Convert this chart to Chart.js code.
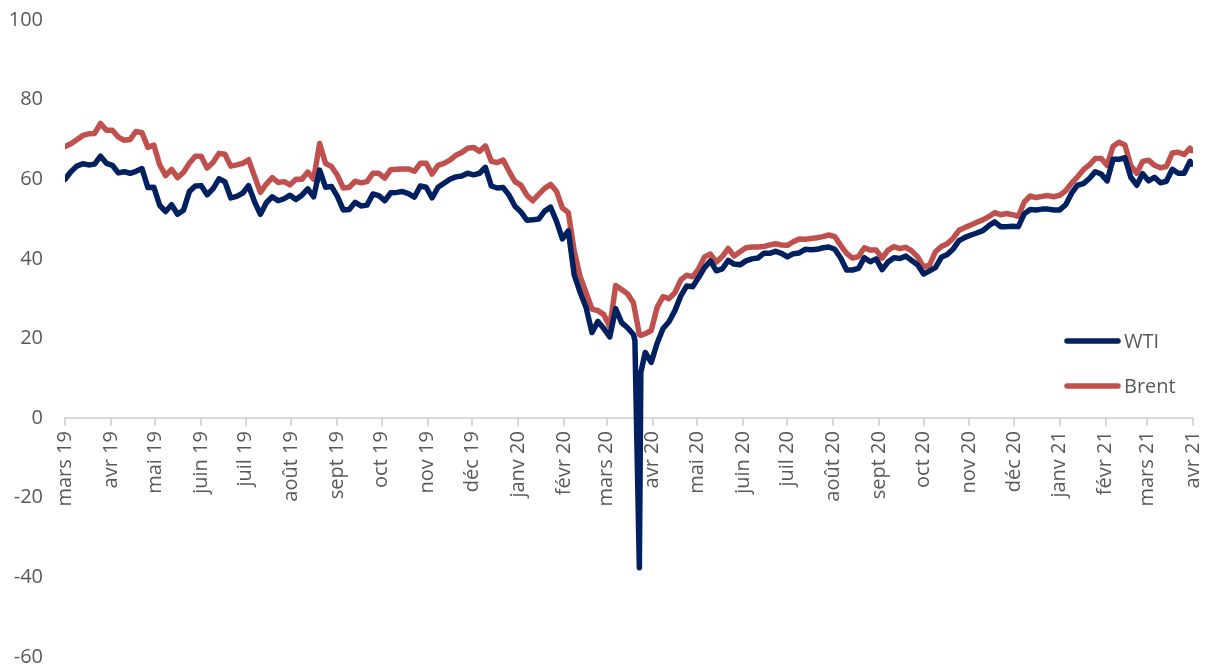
<!DOCTYPE html>
<html>
<head>
<meta charset="utf-8">
<script src="https://cdn.jsdelivr.net/npm/chart.js@4"></script>
<style>
body{margin:0;background:#fff}
</style>
</head>
<body>
<canvas id="oil" width="1216" height="667"></canvas>
<script>

/* DATA */

const dates=[
'2019-03-01','2019-03-05','2019-03-09','2019-03-13','2019-03-17','2019-03-21','2019-03-25','2019-03-29',
'2019-04-02','2019-04-06','2019-04-10','2019-04-14','2019-04-18','2019-04-22','2019-04-26','2019-04-30',
'2019-05-04','2019-05-08','2019-05-12','2019-05-16','2019-05-20','2019-05-24','2019-05-28',
'2019-06-01','2019-06-05','2019-06-09','2019-06-13','2019-06-17','2019-06-21','2019-06-25','2019-06-29',
'2019-07-03','2019-07-07','2019-07-11','2019-07-15','2019-07-19','2019-07-23','2019-07-27','2019-07-31',
'2019-08-04','2019-08-08','2019-08-12','2019-08-16','2019-08-20','2019-08-24','2019-08-28',
'2019-09-01','2019-09-05','2019-09-09','2019-09-13','2019-09-17','2019-09-21','2019-09-25','2019-09-29',
'2019-10-03','2019-10-07','2019-10-11','2019-10-15','2019-10-19','2019-10-23','2019-10-27','2019-10-31',
'2019-11-04','2019-11-08','2019-11-12','2019-11-16','2019-11-20','2019-11-24','2019-11-28',
'2019-12-02','2019-12-06','2019-12-10','2019-12-14','2019-12-18','2019-12-22','2019-12-26','2019-12-30',
'2020-01-03','2020-01-07','2020-01-11','2020-01-15','2020-01-19','2020-01-23','2020-01-27','2020-01-31',
'2020-02-04','2020-02-08','2020-02-12','2020-02-16','2020-02-20','2020-02-24','2020-02-28',
'2020-03-03','2020-03-07','2020-03-11','2020-03-15','2020-03-19','2020-03-20','2020-03-23','2020-03-24','2020-03-27','2020-03-31',
'2020-04-04','2020-04-08','2020-04-12','2020-04-16','2020-04-20','2020-04-24','2020-04-28',
'2020-05-02','2020-05-06','2020-05-10','2020-05-14','2020-05-18','2020-05-22','2020-05-26','2020-05-30',
'2020-06-03','2020-06-07','2020-06-11','2020-06-15','2020-06-19','2020-06-23','2020-06-27',
'2020-07-01','2020-07-05','2020-07-09','2020-07-13','2020-07-17','2020-07-21','2020-07-25','2020-07-29',
'2020-08-02','2020-08-06','2020-08-10','2020-08-14','2020-08-18','2020-08-22','2020-08-26','2020-08-30',
'2020-09-03','2020-09-07','2020-09-11','2020-09-15','2020-09-19','2020-09-23','2020-09-27',
'2020-10-01','2020-10-05','2020-10-09','2020-10-13','2020-10-17','2020-10-21','2020-10-25','2020-10-29',
'2020-11-02','2020-11-06','2020-11-10','2020-11-14','2020-11-18','2020-11-22','2020-11-26','2020-11-30',
'2020-12-04','2020-12-08','2020-12-12','2020-12-16','2020-12-20','2020-12-24','2020-12-28',
'2021-01-01','2021-01-05','2021-01-09','2021-01-13','2021-01-17','2021-01-21','2021-01-25','2021-01-29',
'2021-02-02','2021-02-06','2021-02-10','2021-02-14','2021-02-18','2021-02-22','2021-02-26',
'2021-03-02','2021-03-06','2021-03-10','2021-03-14','2021-03-18','2021-03-22','2021-03-26','2021-03-30','2021-03-31'
]

const wti=[
60.0,61.9,63.3,63.9,63.6,63.8,65.8,64.0,
63.5,61.6,61.9,61.5,62.0,62.7,57.9,58.0,
53.4,51.9,53.6,51.2,52.2,56.9,58.3,
58.4,56.1,57.6,60.1,59.4,55.3,55.7,56.5,
58.4,54.4,51.2,54.1,55.6,54.6,55.1,56.0,
54.9,56.0,57.6,55.6,62.3,58.0,58.2,
55.7,52.3,52.4,54.2,53.3,53.5,56.3,55.9,
54.6,56.6,56.7,56.9,56.4,55.5,58.3,58.0,
55.3,58.0,59.0,60.0,60.6,60.8,61.5,
61.1,61.5,63.0,58.3,57.8,57.9,56.0,53.2,
51.8,49.7,49.8,50.0,52.0,53.0,49.5,45.0,
47.0,36.0,31.6,27.8,21.5,24.3,22.5,
20.4,27.5,24.0,22.7,21.0,19.5,-37.6,11.5,16.5,14.0,
18.8,22.5,24.2,27.0,30.7,33.2,33.0,
35.3,37.8,39.5,37.0,37.5,39.6,38.7,38.5,
39.5,40.0,40.2,41.4,41.4,41.9,41.4,
40.5,41.3,41.5,42.4,42.3,42.4,42.8,43.0,
42.4,40.2,37.2,37.2,37.6,40.3,39.3,40.0,
37.3,39.2,40.3,40.1,40.7,39.6,38.5,
36.2,37.0,37.8,40.4,41.1,42.5,44.6,45.4,
46.0,46.5,47.1,48.3,49.3,48.1,48.1,48.2,
48.1,51.3,52.4,52.3,52.5,52.5,52.3,
52.3,53.6,56.5,58.5,58.9,60.2,61.9,61.3,
59.6,65.0,65.0,65.4,60.5,58.5,61.4,
59.6,60.5,59.1,59.5,62.5,61.5,61.5,64.5,63.8
]

const brent=[
68.2,68.9,69.9,71.0,71.4,71.5,74.0,72.3,
72.3,70.6,69.8,70.0,72.0,71.7,68.0,68.6,
63.6,60.9,62.5,60.4,61.7,64.0,65.8,
65.8,62.8,64.2,66.5,66.3,63.3,63.6,64.0,
64.9,60.8,56.7,58.8,60.4,59.2,59.4,58.6,
60.0,60.0,61.8,60.0,69.0,64.0,63.2,
61.0,57.8,58.0,59.5,59.1,59.4,61.5,61.5,
60.3,62.4,62.5,62.6,62.6,62.0,64.0,64.0,
61.3,63.5,64.0,64.8,66.0,66.7,67.8,
68.0,67.0,68.4,64.5,64.2,64.8,62.0,59.4,
58.5,56.0,54.6,56.2,57.7,58.7,57.0,52.8,
51.6,42.0,35.5,31.5,27.4,27.0,26.0,
22.9,33.3,32.3,31.2,29.0,27.0,21.0,20.8,21.2,22.0,
27.8,30.5,30.0,31.5,34.7,35.9,35.5,
37.5,40.5,41.2,39.2,40.6,42.6,40.7,41.8,
42.8,43.0,43.0,43.1,43.5,43.8,43.5,
43.4,44.3,45.0,44.9,45.1,45.3,45.6,46.0,
45.6,43.4,41.4,40.2,40.6,42.8,42.2,42.2,
40.2,42.2,43.1,42.6,42.9,42.0,40.5,
38.0,38.4,41.8,43.1,43.8,45.2,47.2,47.9,
48.5,49.2,49.8,50.6,51.6,51.1,51.4,51.1,
50.7,54.3,55.8,55.4,55.7,55.9,55.6,
56.0,57.1,59.0,60.6,62.4,63.6,65.2,65.2,
63.5,68.3,69.3,68.6,63.4,61.5,64.5,
64.8,63.5,62.9,63.2,66.6,66.8,66.2,67.8,67.2
]

const monthLabels=[
'mars 19','avr 19','mai 19','juin 19','juil 19','août 19','sept 19','oct 19','nov 19','déc 19',
'janv 20','févr 20','mars 20','avr 20','mai 20','juin 20','juil 20','août 20','sept 20','oct 20',
'nov 20','déc 20','janv 21','févr 21','mars 21','avr 21'
]

const yMin=-60
const yMax=100
const yStep=20


/* DAYS SINCE FIRST MONTH */

const start=Date.UTC(2019,2,1)

function dayOf(s){
return (Date.parse(s)-start)/86400000
}

const monthDays=monthLabels.map((l,i)=>(Date.UTC(2019,2+i,1)-start)/86400000)

function points(values){
return dates.map((d,i)=>({x:dayOf(d),y:values[i]}))
}


/* LEGEND INSIDE PLOT */

const sideLegend={
id:"sideLegend",
afterDraw(chart){
const ctx=chart.ctx
const right=chart.chartArea.right
const rows=[341,386]
ctx.save()
ctx.font="20px 'Open Sans'"
ctx.textBaseline="middle"
chart.data.datasets.forEach((ds,i)=>{
let y=rows[i]
ctx.strokeStyle=ds.borderColor
ctx.lineWidth=5.5
ctx.lineCap="round"
ctx.beginPath()
ctx.moveTo(right-126,y)
ctx.lineTo(right-75,y)
ctx.stroke()
ctx.fillStyle="#595959"
ctx.fillText(ds.label,right-69,y+1)
})
ctx.restore()
}
}


/* CHART */

const grey="#595959"

new Chart(document.getElementById("oil"),{

type:"line",

data:{
datasets:[
{
label:"WTI",
data:points(wti),
borderColor:"#002060",
borderWidth:5.5,
pointRadius:0,
tension:0,
borderCapStyle:"round",
borderJoinStyle:"round"
},
{
label:"Brent",
data:points(brent),
borderColor:"#C0504D",
borderWidth:5.5,
pointRadius:0,
tension:0,
borderCapStyle:"round",
borderJoinStyle:"round"
}
]
},

options:{
responsive:false,
animation:false,
layout:{padding:{top:20,bottom:10,left:0,right:23}},
plugins:{
legend:{display:false},
tooltip:{enabled:false}
},
scales:{
x:{
type:"linear",
position:{y:0},
min:0,
max:monthDays[monthDays.length-1],
afterBuildTicks:axis=>{
axis.ticks=monthDays.map(v=>({value:v}))
},
ticks:{
autoSkip:false,
maxRotation:90,
minRotation:90,
padding:6,
color:grey,
font:{family:"Open Sans",size:20,lineHeight:0.85},
callback:(v,i)=>monthLabels[i]
},
grid:{
drawOnChartArea:false,
drawTicks:true,
tickLength:7,
color:"#d9d9d9",
lineWidth:2
},
border:{color:"#d9d9d9",width:2}
},
y:{
min:yMin,
max:yMax,
afterFit:s=>{s.width=65},
ticks:{
stepSize:yStep,
padding:0,
color:grey,
font:{family:"Open Sans",size:20,lineHeight:1}
},
grid:{display:false,drawTicks:true,tickLength:22},
border:{display:false}
}
}
},

plugins:[sideLegend]

})

</script>
</body>
</html>
